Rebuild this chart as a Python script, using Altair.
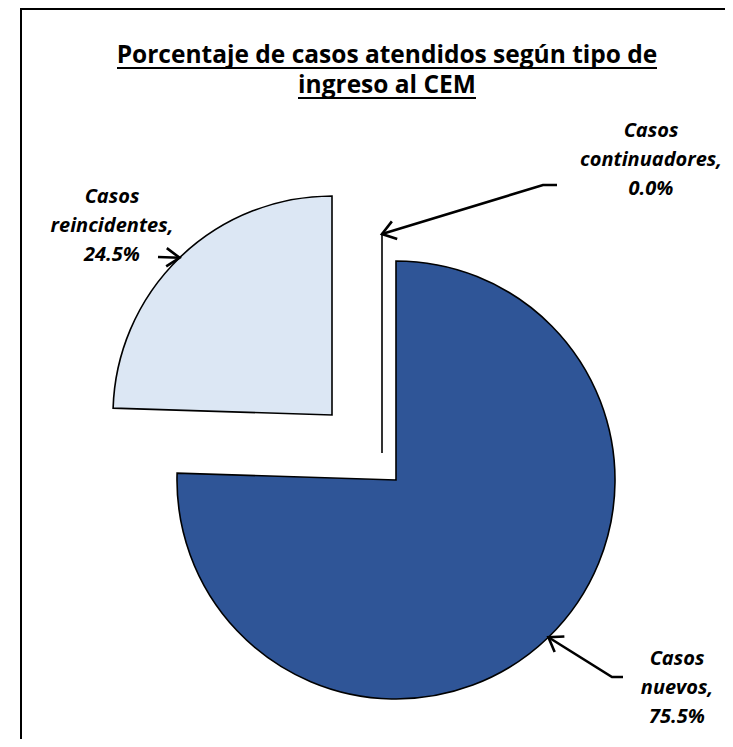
import math
import altair as alt
import pandas as pd

# ---- data ----
categorias = ["Casos nuevos", "Casos reincidentes", "Casos continuadores"]
porcentajes = [75.5, 24.5, 0.0]
titulo = ["Porcentaje de casos atendidos según tipo de", "ingreso al CEM"]

# ---- layout / style ----
W, H = 717, 731
R = 219
centros = {"Casos nuevos": (388, 472), "Casos reincidentes": (324, 407), "Casos continuadores": (374, 445)}
colores = {"Casos nuevos": "#2F5597", "Casos reincidentes": "#DCE7F4", "Casos continuadores": "#FFFFFF"}
pos_etiqueta = {"Casos nuevos": (669, 657), "Casos reincidentes": (104, 195), "Casos continuadores": (643, 129)}
guia = {"Casos nuevos": [(615, 669), (604, 669)],
        "Casos reincidentes": [(150, 249)],
        "Casos continuadores": [(549, 177), (535, 177)]}
FONT = "Open Sans"

df = pd.DataFrame({"cat": categorias, "pct": porcentajes})
df["fin"] = df["pct"].cumsum()
df["inicio"] = df["fin"] - df["pct"]

theta_scale = alt.Scale(domain=[0, 100], range=[0, 2 * math.pi])
xs = alt.Scale(domain=[0, W], range=[0, W], nice=False, zero=False)
ys = alt.Scale(domain=[0, H], range=[0, H], nice=False, zero=False)

one = pd.DataFrame({"a": [0]})
layers = []

# frame of the chart (only top and left edges are within the picture)
layers.append(alt.Chart(one).mark_rule(color="black", strokeWidth=2).encode(
    x=alt.value(12), x2=alt.value(W + 20), y=alt.value(1)))
layers.append(alt.Chart(one).mark_rule(color="black", strokeWidth=2).encode(
    x=alt.value(13), y=alt.value(0), y2=alt.value(H + 20)))

# pie slices (exploded)
for c in categorias:
    cx, cy = centros[c]
    layers.append(
        alt.Chart(df).transform_filter(alt.datum.cat == c).mark_arc(
            radius=R, stroke="black", strokeWidth=1.6, fill=colores[c]
        ).encode(
            theta=alt.Theta("inicio:Q", scale=theta_scale),
            theta2="fin:Q",
            x=alt.value(cx),
            y=alt.value(cy),
        )
    )

# leader lines with arrowheads, tips on the slice's mid-angle on the arc
rows = []
L, ANG = 16, math.radians(35)
for c, (_, r) in zip(categorias, df.iterrows()):
    mid = (r["inicio"] + r["fin"]) / 2 / 100 * 2 * math.pi
    cx, cy = centros[c]
    tx, ty = cx + R * math.sin(mid), cy - R * math.cos(mid)
    pts = guia[c] + [(tx, ty)]
    ex, ey = pts[-2]
    d = math.hypot(tx - ex, ty - ey)
    ux, uy = (tx - ex) / d, (ty - ey) / d
    for k, (px, py) in enumerate(pts):
        rows.append({"path": c + "-l", "ord": k, "x": px, "y": py})
    bx, by = -ux, -uy
    w = []
    for s in (1, -1):
        a = s * ANG
        w.append((tx + L * (bx * math.cos(a) - by * math.sin(a)), ty + L * (bx * math.sin(a) + by * math.cos(a))))
    for k, (px, py) in enumerate([w[0], (tx, ty), w[1]]):
        rows.append({"path": c + "-h", "ord": k, "x": px, "y": py})
lead = pd.DataFrame(rows)
layers.append(
    alt.Chart(lead).mark_line(color="black", strokeWidth=2.6, strokeJoin="miter").encode(
        x=alt.X("x:Q", scale=xs, axis=None),
        y=alt.Y("y:Q", scale=ys, axis=None),
        detail="path:N",
        order="ord:Q",
    )
)

# data labels
for c, p in zip(categorias, porcentajes):
    palabras = c.split(" ")
    lineas = [palabras[0], palabras[1] + ",", f"{p:.1f}%"]
    lx, ly = pos_etiqueta[c]
    layers.append(
        alt.Chart(one).mark_text(
            text=lineas, font=FONT, fontSize=20, fontWeight="bold", fontStyle="italic",
            lineHeight=29, align="center", baseline="alphabetic", color="black"
        ).encode(x=alt.value(lx), y=alt.value(ly))
    )

# title (underlined)
TX = 379
layers.append(
    alt.Chart(one).mark_text(
        text=titulo, font=FONT, fontSize=24.5, fontWeight="bold", lineHeight=30,
        align="center", baseline="alphabetic", color="black"
    ).encode(x=alt.value(TX), y=alt.value(55))
)
for half, uy in [(270, 60), (89, 90)]:
    layers.append(
        alt.Chart(one).mark_rule(color="black", strokeWidth=2).encode(
            x=alt.value(TX - half), x2=alt.value(TX + half), y=alt.value(uy)
        )
    )

chart = alt.layer(*layers).properties(
    width=W, height=H, padding=0, autosize=alt.AutoSizeParams(type="none")
).configure_view(stroke="transparent", strokeWidth=0)

chart.save("out.html", embed_options={"renderer": "svg", "actions": False})
